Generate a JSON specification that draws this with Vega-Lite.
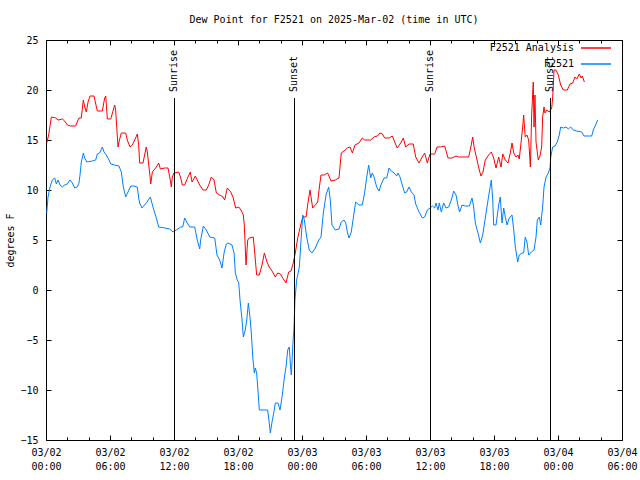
{
  "$schema": "https://vega.github.io/schema/vega-lite/v6.json",
  "width": 576,
  "height": 400,
  "autosize": {"type": "none"},
  "padding": {"left": 46, "top": 40, "right": 18, "bottom": 40},
  "background": "white",
  "title": {"text": "Dew Point for F2521 on 2025-Mar-02 (time in UTC)", "font": "DejaVu Sans Mono", "fontSize": 10, "fontWeight": "normal", "offset": 10, "color": "black", "anchor": "middle"},
  "config": {
    "view": {"stroke": "black", "strokeWidth": 1},
    "font": "DejaVu Sans Mono",
    "axis": {"labelFont": "DejaVu Sans Mono", "labelFontSize": 10, "labelColor": "black", "titleFont": "DejaVu Sans Mono", "titleFontSize": 10, "titleFontWeight": "normal", "titleColor": "black", "domain": false, "tickColor": "black", "tickWidth": 1, "grid": false}
  },
  "datasets": {
    "obs": [
      {"series": "F2521 Analysis", "h": 0.07, "v": 14.7},
      {"series": "F2521 Analysis", "h": 0.25, "v": 15.5},
      {"series": "F2521 Analysis", "h": 0.5, "v": 17.3},
      {"series": "F2521 Analysis", "h": 0.91, "v": 17.2},
      {"series": "F2521 Analysis", "h": 1.13, "v": 17.0},
      {"series": "F2521 Analysis", "h": 1.53, "v": 17.1},
      {"series": "F2521 Analysis", "h": 1.75, "v": 16.9},
      {"series": "F2521 Analysis", "h": 2.0, "v": 16.5},
      {"series": "F2521 Analysis", "h": 2.32, "v": 16.4},
      {"series": "F2521 Analysis", "h": 2.78, "v": 16.4},
      {"series": "F2521 Analysis", "h": 3.0, "v": 17.0},
      {"series": "F2521 Analysis", "h": 3.09, "v": 17.2},
      {"series": "F2521 Analysis", "h": 3.31, "v": 17.2},
      {"series": "F2521 Analysis", "h": 3.5, "v": 19.0},
      {"series": "F2521 Analysis", "h": 3.63, "v": 18.3},
      {"series": "F2521 Analysis", "h": 3.78, "v": 17.8},
      {"series": "F2521 Analysis", "h": 3.94, "v": 18.8},
      {"series": "F2521 Analysis", "h": 4.13, "v": 19.4},
      {"series": "F2521 Analysis", "h": 4.5, "v": 19.4},
      {"series": "F2521 Analysis", "h": 4.81, "v": 17.9},
      {"series": "F2521 Analysis", "h": 5.28, "v": 17.9},
      {"series": "F2521 Analysis", "h": 5.5, "v": 19.2},
      {"series": "F2521 Analysis", "h": 5.6, "v": 19.4},
      {"series": "F2521 Analysis", "h": 5.75, "v": 17.1},
      {"series": "F2521 Analysis", "h": 6.07, "v": 17.1},
      {"series": "F2521 Analysis", "h": 6.44, "v": 18.5},
      {"series": "F2521 Analysis", "h": 6.53, "v": 18.0},
      {"series": "F2521 Analysis", "h": 6.75, "v": 14.3},
      {"series": "F2521 Analysis", "h": 6.84, "v": 14.8},
      {"series": "F2521 Analysis", "h": 7.06, "v": 15.7},
      {"series": "F2521 Analysis", "h": 7.47, "v": 15.7},
      {"series": "F2521 Analysis", "h": 7.62, "v": 15.0},
      {"series": "F2521 Analysis", "h": 7.88, "v": 14.3},
      {"series": "F2521 Analysis", "h": 8.09, "v": 14.5},
      {"series": "F2521 Analysis", "h": 8.32, "v": 15.0},
      {"series": "F2521 Analysis", "h": 8.56, "v": 15.6},
      {"series": "F2521 Analysis", "h": 8.69, "v": 14.5},
      {"series": "F2521 Analysis", "h": 8.78, "v": 12.7},
      {"series": "F2521 Analysis", "h": 9.09, "v": 12.7},
      {"series": "F2521 Analysis", "h": 9.4, "v": 14.3},
      {"series": "F2521 Analysis", "h": 9.5, "v": 13.8},
      {"series": "F2521 Analysis", "h": 9.72, "v": 11.7},
      {"series": "F2521 Analysis", "h": 9.82, "v": 10.6},
      {"series": "F2521 Analysis", "h": 9.97, "v": 11.8},
      {"series": "F2521 Analysis", "h": 10.34, "v": 12.3},
      {"series": "F2521 Analysis", "h": 10.57, "v": 12.7},
      {"series": "F2521 Analysis", "h": 10.72, "v": 12.1},
      {"series": "F2521 Analysis", "h": 11.13, "v": 12.2},
      {"series": "F2521 Analysis", "h": 11.44, "v": 12.2},
      {"series": "F2521 Analysis", "h": 11.65, "v": 11.0},
      {"series": "F2521 Analysis", "h": 11.75, "v": 10.3},
      {"series": "F2521 Analysis", "h": 11.84, "v": 11.3},
      {"series": "F2521 Analysis", "h": 12.0, "v": 11.7},
      {"series": "F2521 Analysis", "h": 12.44, "v": 11.8},
      {"series": "F2521 Analysis", "h": 12.63, "v": 11.2},
      {"series": "F2521 Analysis", "h": 12.78, "v": 10.5},
      {"series": "F2521 Analysis", "h": 13.0, "v": 10.5},
      {"series": "F2521 Analysis", "h": 13.31, "v": 11.3},
      {"series": "F2521 Analysis", "h": 13.53, "v": 11.8},
      {"series": "F2521 Analysis", "h": 13.69, "v": 10.8},
      {"series": "F2521 Analysis", "h": 14.0, "v": 11.4},
      {"series": "F2521 Analysis", "h": 14.41, "v": 10.5},
      {"series": "F2521 Analysis", "h": 14.72, "v": 10.0},
      {"series": "F2521 Analysis", "h": 15.03, "v": 10.0},
      {"series": "F2521 Analysis", "h": 15.25, "v": 10.5},
      {"series": "F2521 Analysis", "h": 15.5, "v": 11.3},
      {"series": "F2521 Analysis", "h": 15.75, "v": 11.0},
      {"series": "F2521 Analysis", "h": 15.97, "v": 9.7},
      {"series": "F2521 Analysis", "h": 16.28, "v": 9.5},
      {"series": "F2521 Analysis", "h": 16.59, "v": 9.3},
      {"series": "F2521 Analysis", "h": 16.75, "v": 9.0},
      {"series": "F2521 Analysis", "h": 17.0, "v": 10.2},
      {"series": "F2521 Analysis", "h": 17.32, "v": 9.8},
      {"series": "F2521 Analysis", "h": 17.53, "v": 9.3},
      {"series": "F2521 Analysis", "h": 17.78, "v": 8.2},
      {"series": "F2521 Analysis", "h": 18.07, "v": 8.3},
      {"series": "F2521 Analysis", "h": 18.28, "v": 8.0},
      {"series": "F2521 Analysis", "h": 18.5, "v": 7.5},
      {"series": "F2521 Analysis", "h": 18.59, "v": 6.5},
      {"series": "F2521 Analysis", "h": 18.75, "v": 2.5},
      {"series": "F2521 Analysis", "h": 18.91, "v": 5.0},
      {"series": "F2521 Analysis", "h": 19.06, "v": 5.2},
      {"series": "F2521 Analysis", "h": 19.43, "v": 5.3},
      {"series": "F2521 Analysis", "h": 19.53, "v": 4.2},
      {"series": "F2521 Analysis", "h": 19.75, "v": 1.5},
      {"series": "F2521 Analysis", "h": 20.0, "v": 1.5},
      {"series": "F2521 Analysis", "h": 20.25, "v": 2.5},
      {"series": "F2521 Analysis", "h": 20.47, "v": 3.7},
      {"series": "F2521 Analysis", "h": 20.72, "v": 2.8},
      {"series": "F2521 Analysis", "h": 20.93, "v": 2.3},
      {"series": "F2521 Analysis", "h": 21.25, "v": 1.8},
      {"series": "F2521 Analysis", "h": 21.5, "v": 1.3},
      {"series": "F2521 Analysis", "h": 21.72, "v": 1.7},
      {"series": "F2521 Analysis", "h": 21.97, "v": 1.6},
      {"series": "F2521 Analysis", "h": 22.19, "v": 1.2},
      {"series": "F2521 Analysis", "h": 22.5, "v": 0.7},
      {"series": "F2521 Analysis", "h": 22.75, "v": 1.8},
      {"series": "F2521 Analysis", "h": 22.97, "v": 1.9},
      {"series": "F2521 Analysis", "h": 23.18, "v": 2.7},
      {"series": "F2521 Analysis", "h": 23.37, "v": 3.7},
      {"series": "F2521 Analysis", "h": 23.6, "v": 5.2},
      {"series": "F2521 Analysis", "h": 23.81, "v": 6.2},
      {"series": "F2521 Analysis", "h": 24.07, "v": 7.3},
      {"series": "F2521 Analysis", "h": 24.38, "v": 7.3},
      {"series": "F2521 Analysis", "h": 24.53, "v": 8.5},
      {"series": "F2521 Analysis", "h": 24.75, "v": 10.0},
      {"series": "F2521 Analysis", "h": 25.0, "v": 8.2},
      {"series": "F2521 Analysis", "h": 25.25, "v": 8.5},
      {"series": "F2521 Analysis", "h": 25.47, "v": 8.8},
      {"series": "F2521 Analysis", "h": 25.62, "v": 10.2},
      {"series": "F2521 Analysis", "h": 25.78, "v": 11.5},
      {"series": "F2521 Analysis", "h": 26.09, "v": 11.5},
      {"series": "F2521 Analysis", "h": 26.41, "v": 11.7},
      {"series": "F2521 Analysis", "h": 26.72, "v": 10.9},
      {"series": "F2521 Analysis", "h": 27.12, "v": 11.0},
      {"series": "F2521 Analysis", "h": 27.47, "v": 11.2},
      {"series": "F2521 Analysis", "h": 27.68, "v": 13.7},
      {"series": "F2521 Analysis", "h": 27.94, "v": 13.9},
      {"series": "F2521 Analysis", "h": 28.25, "v": 14.2},
      {"series": "F2521 Analysis", "h": 28.5, "v": 14.3},
      {"series": "F2521 Analysis", "h": 28.72, "v": 13.7},
      {"series": "F2521 Analysis", "h": 28.97, "v": 14.5},
      {"series": "F2521 Analysis", "h": 29.34, "v": 14.7},
      {"series": "F2521 Analysis", "h": 29.65, "v": 15.2},
      {"series": "F2521 Analysis", "h": 29.88, "v": 15.0},
      {"series": "F2521 Analysis", "h": 30.44, "v": 15.0},
      {"series": "F2521 Analysis", "h": 30.75, "v": 15.3},
      {"series": "F2521 Analysis", "h": 31.06, "v": 15.4},
      {"series": "F2521 Analysis", "h": 31.31, "v": 15.7},
      {"series": "F2521 Analysis", "h": 31.53, "v": 15.6},
      {"series": "F2521 Analysis", "h": 31.75, "v": 15.2},
      {"series": "F2521 Analysis", "h": 32.16, "v": 15.2},
      {"series": "F2521 Analysis", "h": 32.47, "v": 15.4},
      {"series": "F2521 Analysis", "h": 32.69, "v": 14.8},
      {"series": "F2521 Analysis", "h": 32.93, "v": 14.2},
      {"series": "F2521 Analysis", "h": 33.25, "v": 14.7},
      {"series": "F2521 Analysis", "h": 33.5, "v": 15.2},
      {"series": "F2521 Analysis", "h": 33.72, "v": 14.3},
      {"series": "F2521 Analysis", "h": 34.03, "v": 14.6},
      {"series": "F2521 Analysis", "h": 34.43, "v": 14.6},
      {"series": "F2521 Analysis", "h": 34.66, "v": 13.3},
      {"series": "F2521 Analysis", "h": 34.97, "v": 12.7},
      {"series": "F2521 Analysis", "h": 35.22, "v": 13.2},
      {"series": "F2521 Analysis", "h": 35.5, "v": 13.7},
      {"series": "F2521 Analysis", "h": 35.75, "v": 12.7},
      {"series": "F2521 Analysis", "h": 36.0, "v": 13.6},
      {"series": "F2521 Analysis", "h": 36.44, "v": 13.6},
      {"series": "F2521 Analysis", "h": 36.66, "v": 14.3},
      {"series": "F2521 Analysis", "h": 36.97, "v": 14.3},
      {"series": "F2521 Analysis", "h": 37.38, "v": 14.4},
      {"series": "F2521 Analysis", "h": 37.69, "v": 13.2},
      {"series": "F2521 Analysis", "h": 38.06, "v": 13.2},
      {"series": "F2521 Analysis", "h": 38.44, "v": 13.4},
      {"series": "F2521 Analysis", "h": 38.69, "v": 13.3},
      {"series": "F2521 Analysis", "h": 39.63, "v": 13.3},
      {"series": "F2521 Analysis", "h": 39.87, "v": 14.5},
      {"series": "F2521 Analysis", "h": 40.0, "v": 15.3},
      {"series": "F2521 Analysis", "h": 40.15, "v": 14.2},
      {"series": "F2521 Analysis", "h": 40.41, "v": 13.0},
      {"series": "F2521 Analysis", "h": 40.62, "v": 12.0},
      {"series": "F2521 Analysis", "h": 40.78, "v": 11.4},
      {"series": "F2521 Analysis", "h": 40.97, "v": 11.8},
      {"series": "F2521 Analysis", "h": 41.18, "v": 13.0},
      {"series": "F2521 Analysis", "h": 41.5, "v": 13.5},
      {"series": "F2521 Analysis", "h": 41.75, "v": 13.8},
      {"series": "F2521 Analysis", "h": 41.97, "v": 13.2},
      {"series": "F2521 Analysis", "h": 42.19, "v": 12.2},
      {"series": "F2521 Analysis", "h": 42.44, "v": 13.3},
      {"series": "F2521 Analysis", "h": 42.66, "v": 12.3},
      {"series": "F2521 Analysis", "h": 42.82, "v": 13.6},
      {"series": "F2521 Analysis", "h": 43.06, "v": 13.0},
      {"series": "F2521 Analysis", "h": 43.31, "v": 12.7},
      {"series": "F2521 Analysis", "h": 43.53, "v": 13.7},
      {"series": "F2521 Analysis", "h": 43.69, "v": 14.7},
      {"series": "F2521 Analysis", "h": 43.85, "v": 13.7},
      {"series": "F2521 Analysis", "h": 44.06, "v": 13.3},
      {"series": "F2521 Analysis", "h": 44.25, "v": 13.5},
      {"series": "F2521 Analysis", "h": 44.37, "v": 13.1},
      {"series": "F2521 Analysis", "h": 44.56, "v": 15.0},
      {"series": "F2521 Analysis", "h": 44.69, "v": 16.3},
      {"series": "F2521 Analysis", "h": 44.78, "v": 17.5},
      {"series": "F2521 Analysis", "h": 44.93, "v": 15.3},
      {"series": "F2521 Analysis", "h": 45.09, "v": 15.5},
      {"series": "F2521 Analysis", "h": 45.25, "v": 15.0},
      {"series": "F2521 Analysis", "h": 45.41, "v": 12.3},
      {"series": "F2521 Analysis", "h": 45.53, "v": 17.5},
      {"series": "F2521 Analysis", "h": 45.68, "v": 20.8},
      {"series": "F2521 Analysis", "h": 45.75, "v": 16.3},
      {"series": "F2521 Analysis", "h": 45.84, "v": 19.5},
      {"series": "F2521 Analysis", "h": 45.94, "v": 14.8},
      {"series": "F2521 Analysis", "h": 46.15, "v": 13.0},
      {"series": "F2521 Analysis", "h": 46.31, "v": 13.4},
      {"series": "F2521 Analysis", "h": 46.47, "v": 14.3},
      {"series": "F2521 Analysis", "h": 46.56, "v": 17.3},
      {"series": "F2521 Analysis", "h": 46.69, "v": 18.3},
      {"series": "F2521 Analysis", "h": 46.78, "v": 17.7},
      {"series": "F2521 Analysis", "h": 46.94, "v": 18.0},
      {"series": "F2521 Analysis", "h": 47.18, "v": 17.8},
      {"series": "F2521 Analysis", "h": 47.41, "v": 18.2},
      {"series": "F2521 Analysis", "h": 47.5, "v": 19.2},
      {"series": "F2521 Analysis", "h": 47.63, "v": 22.0},
      {"series": "F2521 Analysis", "h": 47.81, "v": 22.0},
      {"series": "F2521 Analysis", "h": 48.03, "v": 21.5},
      {"series": "F2521 Analysis", "h": 48.25, "v": 20.5},
      {"series": "F2521 Analysis", "h": 48.5, "v": 20.0},
      {"series": "F2521 Analysis", "h": 48.87, "v": 20.0},
      {"series": "F2521 Analysis", "h": 49.13, "v": 20.6},
      {"series": "F2521 Analysis", "h": 49.38, "v": 20.7},
      {"series": "F2521 Analysis", "h": 49.59, "v": 21.3},
      {"series": "F2521 Analysis", "h": 49.75, "v": 21.1},
      {"series": "F2521 Analysis", "h": 50.0, "v": 21.6},
      {"series": "F2521 Analysis", "h": 50.16, "v": 21.2},
      {"series": "F2521 Analysis", "h": 50.28, "v": 21.4},
      {"series": "F2521 Analysis", "h": 50.47, "v": 20.8},
      {"series": "F2521", "h": 0.07, "v": 7.7},
      {"series": "F2521", "h": 0.19, "v": 9.3},
      {"series": "F2521", "h": 0.38, "v": 10.3},
      {"series": "F2521", "h": 0.59, "v": 11.0},
      {"series": "F2521", "h": 0.82, "v": 11.2},
      {"series": "F2521", "h": 0.97, "v": 10.6},
      {"series": "F2521", "h": 1.13, "v": 11.0},
      {"series": "F2521", "h": 1.31, "v": 10.5},
      {"series": "F2521", "h": 1.53, "v": 10.3},
      {"series": "F2521", "h": 1.75, "v": 10.5},
      {"series": "F2521", "h": 2.0, "v": 10.6},
      {"series": "F2521", "h": 2.25, "v": 11.0},
      {"series": "F2521", "h": 2.47, "v": 10.7},
      {"series": "F2521", "h": 2.69, "v": 10.2},
      {"series": "F2521", "h": 2.93, "v": 10.3},
      {"series": "F2521", "h": 3.09, "v": 10.7},
      {"series": "F2521", "h": 3.19, "v": 11.5},
      {"series": "F2521", "h": 3.31, "v": 12.8},
      {"series": "F2521", "h": 3.5, "v": 13.7},
      {"series": "F2521", "h": 3.63, "v": 13.2},
      {"series": "F2521", "h": 3.82, "v": 12.8},
      {"series": "F2521", "h": 4.34, "v": 12.9},
      {"series": "F2521", "h": 4.66, "v": 13.0},
      {"series": "F2521", "h": 4.81, "v": 13.6},
      {"series": "F2521", "h": 5.03, "v": 13.7},
      {"series": "F2521", "h": 5.28, "v": 14.3},
      {"series": "F2521", "h": 5.44, "v": 13.8},
      {"series": "F2521", "h": 5.65, "v": 13.5},
      {"series": "F2521", "h": 5.91, "v": 13.0},
      {"series": "F2521", "h": 6.07, "v": 12.6},
      {"series": "F2521", "h": 6.44, "v": 12.5},
      {"series": "F2521", "h": 6.84, "v": 12.4},
      {"series": "F2521", "h": 7.06, "v": 11.8},
      {"series": "F2521", "h": 7.25, "v": 10.3},
      {"series": "F2521", "h": 7.47, "v": 9.3},
      {"series": "F2521", "h": 7.69, "v": 9.8},
      {"series": "F2521", "h": 7.94, "v": 10.4},
      {"series": "F2521", "h": 8.25, "v": 10.4},
      {"series": "F2521", "h": 8.56, "v": 10.3},
      {"series": "F2521", "h": 8.69, "v": 9.2},
      {"series": "F2521", "h": 8.78, "v": 8.7},
      {"series": "F2521", "h": 9.0, "v": 8.2},
      {"series": "F2521", "h": 9.4, "v": 8.7},
      {"series": "F2521", "h": 9.78, "v": 9.3},
      {"series": "F2521", "h": 10.03, "v": 8.3},
      {"series": "F2521", "h": 10.34, "v": 7.2},
      {"series": "F2521", "h": 10.57, "v": 6.3},
      {"series": "F2521", "h": 11.13, "v": 6.2},
      {"series": "F2521", "h": 11.6, "v": 6.1},
      {"series": "F2521", "h": 11.91, "v": 5.8},
      {"series": "F2521", "h": 12.22, "v": 6.0},
      {"series": "F2521", "h": 12.63, "v": 6.3},
      {"series": "F2521", "h": 12.82, "v": 6.3},
      {"series": "F2521", "h": 13.0, "v": 7.2},
      {"series": "F2521", "h": 13.25, "v": 6.7},
      {"series": "F2521", "h": 13.47, "v": 6.3},
      {"series": "F2521", "h": 13.94, "v": 6.3},
      {"series": "F2521", "h": 14.18, "v": 5.0},
      {"series": "F2521", "h": 14.41, "v": 4.1},
      {"series": "F2521", "h": 14.5, "v": 5.0},
      {"series": "F2521", "h": 14.75, "v": 6.4},
      {"series": "F2521", "h": 15.03, "v": 6.0},
      {"series": "F2521", "h": 15.35, "v": 5.3},
      {"series": "F2521", "h": 15.82, "v": 5.2},
      {"series": "F2521", "h": 16.03, "v": 3.5},
      {"series": "F2521", "h": 16.28, "v": 3.0},
      {"series": "F2521", "h": 16.5, "v": 2.2},
      {"series": "F2521", "h": 16.69, "v": 3.7},
      {"series": "F2521", "h": 16.9, "v": 4.6},
      {"series": "F2521", "h": 17.06, "v": 4.7},
      {"series": "F2521", "h": 17.44, "v": 4.5},
      {"series": "F2521", "h": 17.63, "v": 3.7},
      {"series": "F2521", "h": 17.75, "v": 1.7},
      {"series": "F2521", "h": 17.93, "v": 1.0},
      {"series": "F2521", "h": 18.07, "v": 0.7},
      {"series": "F2521", "h": 18.19, "v": -1.0},
      {"series": "F2521", "h": 18.38, "v": -3.0},
      {"series": "F2521", "h": 18.5, "v": -4.7},
      {"series": "F2521", "h": 18.68, "v": -4.0},
      {"series": "F2521", "h": 18.82, "v": -3.0},
      {"series": "F2521", "h": 18.97, "v": -1.3},
      {"series": "F2521", "h": 19.13, "v": -2.8},
      {"series": "F2521", "h": 19.25, "v": -4.3},
      {"series": "F2521", "h": 19.38, "v": -6.7},
      {"series": "F2521", "h": 19.53, "v": -8.3},
      {"series": "F2521", "h": 19.62, "v": -7.8},
      {"series": "F2521", "h": 19.75, "v": -8.3},
      {"series": "F2521", "h": 19.85, "v": -9.7},
      {"series": "F2521", "h": 20.0, "v": -12.0},
      {"series": "F2521", "h": 20.78, "v": -12.0},
      {"series": "F2521", "h": 20.93, "v": -13.3},
      {"series": "F2521", "h": 21.03, "v": -14.3},
      {"series": "F2521", "h": 21.19, "v": -13.2},
      {"series": "F2521", "h": 21.35, "v": -12.3},
      {"series": "F2521", "h": 21.5, "v": -11.3},
      {"series": "F2521", "h": 21.75, "v": -11.3},
      {"series": "F2521", "h": 21.94, "v": -12.0},
      {"series": "F2521", "h": 22.13, "v": -10.7},
      {"series": "F2521", "h": 22.34, "v": -8.8},
      {"series": "F2521", "h": 22.5, "v": -7.7},
      {"series": "F2521", "h": 22.66, "v": -6.0},
      {"series": "F2521", "h": 22.81, "v": -5.7},
      {"series": "F2521", "h": 22.9, "v": -7.3},
      {"series": "F2521", "h": 23.0, "v": -8.5},
      {"series": "F2521", "h": 23.13, "v": -5.7},
      {"series": "F2521", "h": 23.25, "v": -3.7},
      {"series": "F2521", "h": 23.34, "v": -1.0},
      {"series": "F2521", "h": 23.5, "v": 1.0},
      {"series": "F2521", "h": 23.75, "v": 2.3},
      {"series": "F2521", "h": 23.91, "v": 5.0},
      {"series": "F2521", "h": 24.07, "v": 7.5},
      {"series": "F2521", "h": 24.22, "v": 7.0},
      {"series": "F2521", "h": 24.44, "v": 5.3},
      {"series": "F2521", "h": 24.68, "v": 4.0},
      {"series": "F2521", "h": 24.94, "v": 3.7},
      {"series": "F2521", "h": 25.25, "v": 4.2},
      {"series": "F2521", "h": 25.57, "v": 5.0},
      {"series": "F2521", "h": 25.78, "v": 5.3},
      {"series": "F2521", "h": 26.0, "v": 7.7},
      {"series": "F2521", "h": 26.25, "v": 9.5},
      {"series": "F2521", "h": 26.5, "v": 10.3},
      {"series": "F2521", "h": 26.65, "v": 9.0},
      {"series": "F2521", "h": 26.81, "v": 6.5},
      {"series": "F2521", "h": 27.12, "v": 6.0},
      {"series": "F2521", "h": 27.47, "v": 6.1},
      {"series": "F2521", "h": 27.68, "v": 6.8},
      {"series": "F2521", "h": 27.94, "v": 7.0},
      {"series": "F2521", "h": 28.1, "v": 6.7},
      {"series": "F2521", "h": 28.25, "v": 5.8},
      {"series": "F2521", "h": 28.41, "v": 5.2},
      {"series": "F2521", "h": 28.62, "v": 5.8},
      {"series": "F2521", "h": 28.81, "v": 7.2},
      {"series": "F2521", "h": 29.03, "v": 8.8},
      {"series": "F2521", "h": 29.34, "v": 8.5},
      {"series": "F2521", "h": 29.65, "v": 8.5},
      {"series": "F2521", "h": 29.88, "v": 9.8},
      {"series": "F2521", "h": 30.07, "v": 11.3},
      {"series": "F2521", "h": 30.25, "v": 12.5},
      {"series": "F2521", "h": 30.44, "v": 11.2},
      {"series": "F2521", "h": 30.59, "v": 11.7},
      {"series": "F2521", "h": 30.75, "v": 11.3},
      {"series": "F2521", "h": 31.0, "v": 10.3},
      {"series": "F2521", "h": 31.22, "v": 9.9},
      {"series": "F2521", "h": 31.43, "v": 10.6},
      {"series": "F2521", "h": 31.69, "v": 11.2},
      {"series": "F2521", "h": 31.94, "v": 11.2},
      {"series": "F2521", "h": 32.16, "v": 12.2},
      {"series": "F2521", "h": 32.37, "v": 11.9},
      {"series": "F2521", "h": 32.63, "v": 11.7},
      {"series": "F2521", "h": 32.88, "v": 11.4},
      {"series": "F2521", "h": 33.0, "v": 11.7},
      {"series": "F2521", "h": 33.19, "v": 11.3},
      {"series": "F2521", "h": 33.4, "v": 10.5},
      {"series": "F2521", "h": 33.63, "v": 9.7},
      {"series": "F2521", "h": 33.82, "v": 9.8},
      {"series": "F2521", "h": 34.03, "v": 10.3},
      {"series": "F2521", "h": 34.25, "v": 9.8},
      {"series": "F2521", "h": 34.5, "v": 9.5},
      {"series": "F2521", "h": 34.66, "v": 8.6},
      {"series": "F2521", "h": 34.97, "v": 7.8},
      {"series": "F2521", "h": 35.28, "v": 7.2},
      {"series": "F2521", "h": 35.5, "v": 7.3},
      {"series": "F2521", "h": 35.75, "v": 8.0},
      {"series": "F2521", "h": 36.0, "v": 8.2},
      {"series": "F2521", "h": 36.22, "v": 8.4},
      {"series": "F2521", "h": 36.44, "v": 8.2},
      {"series": "F2521", "h": 36.56, "v": 8.7},
      {"series": "F2521", "h": 36.75, "v": 8.0},
      {"series": "F2521", "h": 36.87, "v": 8.7},
      {"series": "F2521", "h": 37.06, "v": 7.8},
      {"series": "F2521", "h": 37.28, "v": 8.7},
      {"series": "F2521", "h": 37.5, "v": 8.2},
      {"series": "F2521", "h": 37.75, "v": 8.3},
      {"series": "F2521", "h": 38.0, "v": 9.0},
      {"series": "F2521", "h": 38.22, "v": 9.9},
      {"series": "F2521", "h": 38.44, "v": 9.5},
      {"series": "F2521", "h": 38.63, "v": 8.4},
      {"series": "F2521", "h": 38.78, "v": 7.8},
      {"series": "F2521", "h": 39.0, "v": 8.5},
      {"series": "F2521", "h": 39.31, "v": 8.4},
      {"series": "F2521", "h": 39.69, "v": 8.4},
      {"series": "F2521", "h": 39.94, "v": 9.2},
      {"series": "F2521", "h": 40.09, "v": 8.3},
      {"series": "F2521", "h": 40.25, "v": 6.7},
      {"series": "F2521", "h": 40.5, "v": 5.7},
      {"series": "F2521", "h": 40.72, "v": 4.7},
      {"series": "F2521", "h": 40.94, "v": 5.5},
      {"series": "F2521", "h": 41.13, "v": 6.8},
      {"series": "F2521", "h": 41.34, "v": 8.3},
      {"series": "F2521", "h": 41.56, "v": 9.8},
      {"series": "F2521", "h": 41.75, "v": 11.0},
      {"series": "F2521", "h": 41.88, "v": 9.0},
      {"series": "F2521", "h": 41.97, "v": 6.5},
      {"series": "F2521", "h": 42.19, "v": 6.5},
      {"series": "F2521", "h": 42.44, "v": 8.5},
      {"series": "F2521", "h": 42.59, "v": 9.3},
      {"series": "F2521", "h": 42.75, "v": 6.7},
      {"series": "F2521", "h": 42.91, "v": 8.2},
      {"series": "F2521", "h": 43.06, "v": 7.3},
      {"series": "F2521", "h": 43.22, "v": 6.5},
      {"series": "F2521", "h": 43.43, "v": 7.2},
      {"series": "F2521", "h": 43.69, "v": 7.5},
      {"series": "F2521", "h": 43.85, "v": 6.0},
      {"series": "F2521", "h": 44.0, "v": 4.3},
      {"series": "F2521", "h": 44.22, "v": 2.8},
      {"series": "F2521", "h": 44.37, "v": 3.5},
      {"series": "F2521", "h": 44.63, "v": 3.7},
      {"series": "F2521", "h": 44.78, "v": 3.7},
      {"series": "F2521", "h": 44.93, "v": 5.3},
      {"series": "F2521", "h": 45.09, "v": 4.8},
      {"series": "F2521", "h": 45.25, "v": 3.5},
      {"series": "F2521", "h": 45.5, "v": 3.8},
      {"series": "F2521", "h": 45.75, "v": 4.0},
      {"series": "F2521", "h": 45.94, "v": 5.3},
      {"series": "F2521", "h": 46.06, "v": 7.0},
      {"series": "F2521", "h": 46.25, "v": 7.3},
      {"series": "F2521", "h": 46.38, "v": 6.5},
      {"series": "F2521", "h": 46.56, "v": 8.3},
      {"series": "F2521", "h": 46.69, "v": 10.3},
      {"series": "F2521", "h": 46.88, "v": 11.3},
      {"series": "F2521", "h": 47.09, "v": 11.7},
      {"series": "F2521", "h": 47.25, "v": 12.2},
      {"series": "F2521", "h": 47.32, "v": 13.3},
      {"series": "F2521", "h": 47.5, "v": 14.3},
      {"series": "F2521", "h": 47.72, "v": 14.4},
      {"series": "F2521", "h": 47.93, "v": 14.8},
      {"series": "F2521", "h": 48.12, "v": 15.5},
      {"series": "F2521", "h": 48.25, "v": 16.3},
      {"series": "F2521", "h": 48.5, "v": 16.2},
      {"series": "F2521", "h": 48.75, "v": 16.3},
      {"series": "F2521", "h": 48.97, "v": 16.1},
      {"series": "F2521", "h": 49.19, "v": 16.3},
      {"series": "F2521", "h": 49.43, "v": 16.0},
      {"series": "F2521", "h": 49.75, "v": 15.9},
      {"series": "F2521", "h": 50.22, "v": 15.8},
      {"series": "F2521", "h": 50.44, "v": 15.4},
      {"series": "F2521", "h": 50.84, "v": 15.4},
      {"series": "F2521", "h": 51.16, "v": 15.4},
      {"series": "F2521", "h": 51.31, "v": 16.0},
      {"series": "F2521", "h": 51.56, "v": 16.6},
      {"series": "F2521", "h": 51.72, "v": 17.0}
    ],
    "sun": [
      {"h": 12.0, "label": "Sunrise"},
      {"h": 23.25, "label": "Sunset"},
      {"h": 36.0, "label": "Sunrise"},
      {"h": 47.25, "label": "Sunset"}
    ]
  },
  "layer": [
    {
      "data": {"name": "obs"},
      "mark": {"type": "line", "strokeWidth": 1, "interpolate": "linear"},
      "encoding": {
        "x": {
          "field": "h", "type": "quantitative",
          "scale": {"domain": [0, 54], "nice": false, "zero": false},
          "axis": {
            "orient": "bottom", "title": null,
            "values": [0, 2, 4, 6, 8, 10, 12, 14, 16, 18, 20, 22, 24, 26, 28, 30, 32, 34, 36, 38, 40, 42, 44, 46, 48, 50, 52, 54],
            "tickSize": {"condition": {"test": "datum.value % 6 === 0", "value": -5}, "value": -3},
            "labelPadding": 12,
            "labelExpr": "datum.value % 6 === 0 ? ['03/0' + (2 + floor(datum.value / 24)), (datum.value % 24 < 10 ? '0' : '') + (datum.value % 24) + ':00'] : ''",
            "labelOverlap": false, "labelFlush": false, "labelLineHeight": 14, "labelBaseline": "top"
          }
        },
        "y": {
          "field": "v", "type": "quantitative",
          "scale": {"domain": [-15, 25], "nice": false, "zero": false},
          "axis": {"orient": "left", "title": "degrees F", "values": [-15, -10, -5, 0, 5, 10, 15, 20, 25], "tickSize": -5, "labelPadding": 13, "titlePadding": 4}
        },
        "color": {
          "field": "series", "type": "nominal",
          "scale": {"domain": ["F2521 Analysis", "F2521"], "range": ["#ff0000", "#0080ff"]},
          "legend": {
            "title": null, "orient": "none", "legendX": 544, "legendY": 2, "padding": 0,
            "symbolType": "M-3,0H3", "symbolSize": 100, "symbolStrokeWidth": 1.5,
            "labelAlign": "right", "labelOffset": -28, "labelFont": "DejaVu Sans Mono", "labelFontSize": 10, "labelColor": "black", "rowPadding": 5,
            "encode": {"symbols": {"update": {"stroke": {"scale": "color", "field": "value"}, "fill": {"value": "transparent"}, "strokeOpacity": {"value": 1}, "opacity": {"value": 1}}}}
          }
        }
      }
    },
    {
      "data": {"name": "sun"},
      "mark": {"type": "rule", "color": "black", "strokeWidth": 1, "xOffset": 0.5},
      "encoding": {
        "x": {
          "field": "h", "type": "quantitative",
          "axis": {
            "orient": "top", "title": null, "labels": false,
            "values": [0, 2, 4, 6, 8, 10, 12, 14, 16, 18, 20, 22, 24, 26, 28, 30, 32, 34, 36, 38, 40, 42, 44, 46, 48, 50, 52, 54],
            "tickSize": {"condition": {"test": "datum.value % 6 === 0", "value": -5}, "value": -3}
          }
        },
        "y": {"datum": 19.2, "type": "quantitative", "axis": {"orient": "right", "title": null, "labels": false, "values": [-15, -10, -5, 0, 5, 10, 15, 20, 25], "tickSize": -5}},
        "y2": {"datum": -15}
      }
    },
    {
      "data": {"name": "sun"},
      "mark": {"type": "text", "angle": 270, "align": "left", "baseline": "middle", "font": "DejaVu Sans Mono", "fontSize": 10, "color": "black"},
      "encoding": {
        "x": {"field": "h", "type": "quantitative", "axis": null},
        "y": {"datum": 19.8, "type": "quantitative", "axis": null},
        "text": {"field": "label"}
      }
    }
  ],
  "resolve": {"axis": {"x": "independent", "y": "independent"}}
}
